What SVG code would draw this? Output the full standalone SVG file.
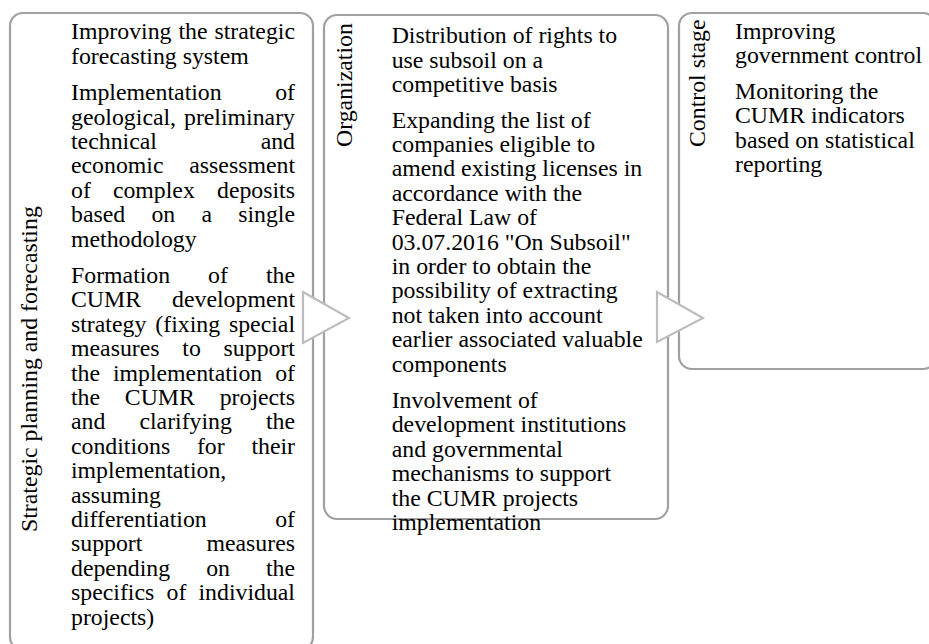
<svg xmlns="http://www.w3.org/2000/svg" width="929" height="644" viewBox="0 0 929 644">
<style>
.box{fill:#fff;stroke:#a0a0a0;stroke-width:2.2}
.arr{fill:#fff;stroke:#bdbdbd;stroke-width:2.2;stroke-linejoin:miter}
text{font-family:"Liberation Serif","Times New Roman",serif;font-size:23.8px;fill:#000}
.e{text-anchor:end}
</style>
<rect width="929" height="644" fill="#fff"/>
<g id="node-strategic">
<rect class="box" x="10" y="13" width="303" height="637" rx="13"/>
<text transform="translate(36.5,532) rotate(-90)">Strategic planning and forecasting</text>
<text x="71" y="39.3">Improving</text><text x="178.4" y="39.3">the</text><text class="e" x="295" y="39.3">strategic</text>
<text x="71" y="63.7">forecasting system</text>
<text x="71" y="100.1">Implementation</text><text class="e" x="295" y="100.1">of</text>
<text x="71" y="124.5">geological,</text><text class="e" x="295" y="124.5">preliminary</text>
<text x="71" y="148.9">technical</text><text class="e" x="295" y="148.9">and</text>
<text x="71" y="173.3">economic</text><text class="e" x="295" y="173.3">assessment</text>
<text x="71" y="197.7">of</text><text x="112.9" y="197.7">complex</text><text class="e" x="295" y="197.7">deposits</text>
<text x="71" y="222.1">based</text><text x="151.4" y="222.1">on</text><text x="201.4" y="222.1">a</text><text class="e" x="295" y="222.1">single</text>
<text x="71" y="246.5">methodology</text>
<text x="71" y="282.9">Formation</text><text x="208.1" y="282.9">of</text><text class="e" x="295" y="282.9">the</text>
<text x="71" y="307.3">CUMR</text><text class="e" x="295" y="307.3">development</text>
<text x="71" y="331.7">strategy</text><text x="155.3" y="331.7">(fixing</text><text class="e" x="295" y="331.7">special</text>
<text x="71" y="356.1">measures</text><text x="182.3" y="356.1">to</text><text class="e" x="295" y="356.1">support</text>
<text x="71" y="380.5">the</text><text x="112.9" y="380.5">implementation</text><text class="e" x="295" y="380.5">of</text>
<text x="71" y="404.9">the</text><text x="124.8" y="404.9">CUMR</text><text class="e" x="295" y="404.9">projects</text>
<text x="71" y="429.3">and</text><text x="139.4" y="429.3">clarifying</text><text class="e" x="295" y="429.3">the</text>
<text x="71" y="453.7">conditions</text><text x="196.9" y="453.7">for</text><text class="e" x="295" y="453.7">their</text>
<text x="71" y="478.1">implementation,</text>
<text x="71" y="502.5">assuming</text>
<text x="71" y="526.9">differentiation</text><text class="e" x="295" y="526.9">of</text>
<text x="71" y="551.3">support</text><text class="e" x="295" y="551.3">measures</text>
<text x="71" y="575.7">depending</text><text x="206.2" y="575.7">on</text><text class="e" x="295" y="575.7">the</text>
<text x="71" y="600.1">specifics</text><text x="166.5" y="600.1">of</text><text class="e" x="295" y="600.1">individual</text>
<text x="71" y="624.5">projects)</text>
</g>
<g id="node-organization">
<rect class="box" x="324" y="15" width="344" height="504" rx="13"/>
<text transform="translate(351.5,147) rotate(-90)">Organization</text>
<text x="391.7" y="43.3">Distribution of rights to</text>
<text x="391.7" y="67.7">use subsoil on a</text>
<text x="391.7" y="92.1">competitive basis</text>
<text x="391.7" y="127.5">Expanding the list of</text>
<text x="391.7" y="151.9">companies eligible to</text>
<text x="391.7" y="176.3">amend existing licenses in</text>
<text x="391.7" y="200.7">accordance with the</text>
<text x="391.7" y="225.1">Federal Law of</text>
<text x="391.7" y="249.5">03.07.2016 "On Subsoil"</text>
<text x="391.7" y="273.9">in order to obtain the</text>
<text x="391.7" y="298.3">possibility of extracting</text>
<text x="391.7" y="322.7">not taken into account</text>
<text x="391.7" y="347.1">earlier associated valuable</text>
<text x="391.7" y="371.5">components</text>
<text x="391.7" y="407.9">Involvement of</text>
<text x="391.7" y="432.3">development institutions</text>
<text x="391.7" y="456.7">and governmental</text>
<text x="391.7" y="481.1">mechanisms to support</text>
<text x="391.7" y="505.5">the CUMR projects</text>
<text x="391.7" y="529.9">implementation</text>
</g>
<g id="node-control">
<rect class="box" x="679" y="13" width="257" height="356" rx="13"/>
<text transform="translate(705,147) rotate(-90)">Control stage</text>
<text x="735" y="38.8">Improving</text>
<text x="735" y="63.2">government control</text>
<text x="735" y="98.8">Monitoring the</text>
<text x="735" y="123.2">CUMR indicators</text>
<text x="735" y="147.6">based on statistical</text>
<text x="735" y="172">reporting</text>
</g>
<g id="connectors">
<polygon class="arr" points="303,292 349,318 303,343"/>
<polygon class="arr" points="657,292 703,318 657,342"/>
</g>
</svg>
